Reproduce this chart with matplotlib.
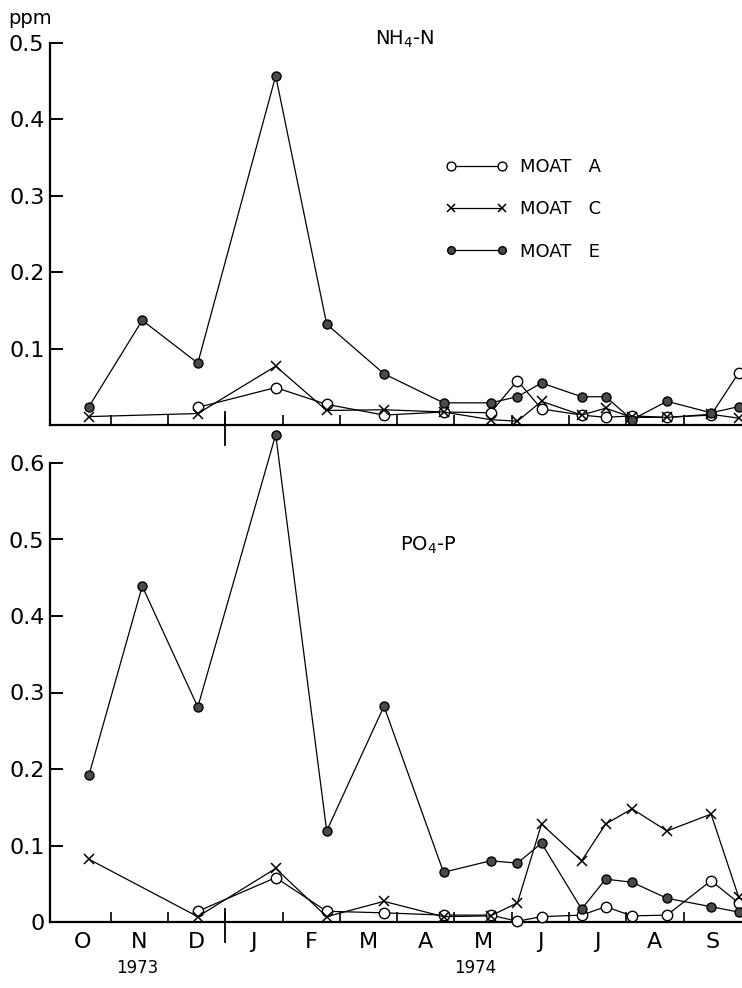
import numpy as np
import matplotlib
matplotlib.use("Agg")
import matplotlib.pyplot as plt
from matplotlib.lines import Line2D

nan = np.nan

# month labels (Oct 1973 .. Sep 1974), x unit = months since 1 Oct 1973
months = ["O", "N", "D", "J", "F", "M", "A", "M", "J", "J", "A", "S"]
years = ["1973", "1974"]
t = [0.62, 1.55, 2.52, 3.88, 4.77, 5.77, 6.81, 7.63, 8.10, 8.52, 9.22, 9.64, 10.10, 10.71, 11.48, 11.96]

# NH4-N (ppm)
nh4_A = [nan, nan, 0.023, 0.049, 0.027, 0.013, 0.017, 0.016, 0.058, 0.021, 0.013, 0.010, 0.012, 0.010, 0.013, 0.068]
nh4_C = [0.011, nan, 0.015, 0.077, 0.019, 0.020, 0.017, 0.007, 0.005, 0.031, 0.013, 0.022, 0.010, 0.010, 0.014, 0.009]
nh4_E = [0.024, 0.137, 0.081, 0.457, 0.132, 0.067, 0.029, 0.029, 0.037, 0.055, 0.037, 0.037, 0.007, 0.031, 0.016, 0.024]

# PO4-P (ppm)
po4_A = [nan, nan, 0.014, 0.058, 0.014, 0.012, 0.009, 0.009, 0.001, 0.007, 0.009, 0.020, 0.008, 0.009, 0.054, 0.025]
po4_C = [0.082, nan, 0.007, 0.070, 0.007, 0.027, 0.007, 0.008, 0.025, 0.128, 0.080, 0.128, 0.148, 0.119, 0.141, 0.033]
po4_E = [0.192, 0.439, 0.281, 0.637, 0.119, 0.282, 0.065, 0.080, 0.077, 0.103, 0.017, 0.056, 0.052, 0.031, 0.020, 0.013]

labels = ["MOAT   A", "MOAT   C", "MOAT   E"]

W, H = 742, 988
fig = plt.figure(figsize=(W / 100, H / 100), dpi=100)
fig.patch.set_facecolor("white")

styles = [
    dict(marker="o", mfc="white", mec="black", ms=7.5, mew=1.0),
    dict(marker="x", mfc="black", mec="black", ms=7, mew=1.1),
    dict(marker="o", mfc="#4a4a4a", mec="black", ms=6.5, mew=1.0),
]

def draw(ax, series):
    tt = np.array(t)
    for vals, st in zip(series, styles):
        v = np.array(vals, dtype=float)
        m = ~np.isnan(v)
        ax.plot(tt[m], v[m], color="black", lw=0.9, clip_on=False, zorder=3, **st)

def style_axes(ax, ymax, yt):
    ax.set_xlim(-0.06, 12.02)
    ax.set_ylim(0, ymax)
    for s in ["top", "right"]:
        ax.spines[s].set_visible(False)
    for s in ["left", "bottom"]:
        ax.spines[s].set_linewidth(1.6)
    ax.set_xticks(range(1, 12))
    ax.set_xticklabels([""] * 11)
    ax.tick_params(axis="x", which="major", direction="in", length=7, width=1.2)
    ax.set_yticks(yt)
    ax.tick_params(axis="y", direction="in", length=9, width=1.4, labelsize=16, pad=4)
    ax.plot([3, 3], [-0.026, 0.017], color="black", lw=1.3, clip_on=False)

ax1 = fig.add_axes([50 / W, 1 - 425 / H, 692 / W, 382 / H])
draw(ax1, [nh4_A, nh4_C, nh4_E])
style_axes(ax1, 0.5, [0.1, 0.2, 0.3, 0.4, 0.5])
ax1.set_yticklabels(["0.1", "0.2", "0.3", "0.4", "0.5"])

ax2 = fig.add_axes([50 / W, 1 - 922 / H, 692 / W, 459 / H])
draw(ax2, [po4_A, po4_C, po4_E])
style_axes(ax2, 0.6, [0, 0.1, 0.2, 0.3, 0.4, 0.5, 0.6])
ax2.set_yticklabels(["0", "0.1", "0.2", "0.3", "0.4", "0.5", "0.6"])
ax2.set_xticks(np.arange(12) + 0.5, minor=True)
ax2.set_xticklabels(months, minor=True, fontsize=16)
ax2.tick_params(axis="x", which="minor", length=0, pad=7)

# year labels
fig.text(137 / W, 1 - 968 / H, years[0], ha="center", va="center", fontsize=12)
fig.text(475 / W, 1 - 968 / H, years[1], ha="center", va="center", fontsize=12)

fig.text(8 / W, 1 - 18 / H, "ppm", ha="left", va="center", fontsize=14)
fig.text(405 / W, 1 - 39 / H, "NH$_4$-N", ha="center", va="center", fontsize=14)
fig.text(428 / W, 1 - 545 / H, "PO$_4$-P", ha="center", va="center", fontsize=14)

# legend
handles = []
for st in styles:
    s = dict(st)
    s["ms"] = s["ms"] * 0.85
    handles.append(Line2D([], [], color="black", lw=0.9, **s))
leg = ax1.legend(handles, labels, loc="upper left", bbox_to_anchor=(446 / W, 1 - 158 / H),
                 bbox_transform=fig.transFigure, frameon=False, numpoints=2,
                 handlelength=3.4, handletextpad=0.7, labelspacing=1.35, fontsize=13,
                 borderpad=0, borderaxespad=0)

fig.savefig("out.png", dpi=100, facecolor="white")
